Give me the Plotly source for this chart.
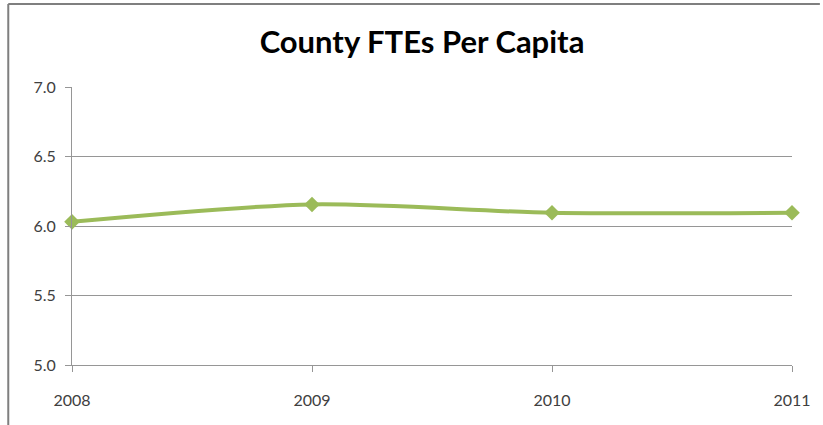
import plotly.graph_objects as go

years = [2008, 2009, 2010, 2011]
ftes_per_capita = [6.03, 6.155, 6.095, 6.095]
y_ticks = [5.0, 5.5, 6.0, 6.5, 7.0]
y_tick_labels = ["5.0", "5.5", "6.0", "6.5", "7.0"]

line_color = "#9BBB59"
grid_color = "#969696"
label_font = dict(family="Lato, Open Sans, sans-serif", size=16, color="#404040")

# plot area in pixels: x 72..795, y 87..365
W, H = 823, 425
L, R, T, B = 72, 28, 87, 60
pw, ph = W - L - R, H - T - B

fig = go.Figure()
fig.add_trace(go.Scatter(
    x=years,
    y=ftes_per_capita,
    mode="lines+markers",
    line=dict(color=line_color, width=4, shape="spline", smoothing=0.8),
    marker=dict(symbol="diamond", size=12, color=line_color),
    cliponaxis=False,
    showlegend=False,
))

fig.update_layout(
    width=W,
    height=H,
    margin=dict(l=L, r=R, t=T, b=B),
    paper_bgcolor="white",
    plot_bgcolor="white",
    title=dict(
        text="<b>County FTEs Per Capita</b>",
        x=422 / W, xanchor="center",
        y=1 - 42 / H, yanchor="middle",
        font=dict(family="Lato, Open Sans, sans-serif", size=31, color="#000000"),
    ),
    xaxis=dict(
        range=[2008, 2011],
        tickmode="array",
        tickvals=years,
        ticktext=[str(y) for y in years],
        ticks="outside",
        ticklen=6,
        tickcolor=grid_color,
        tickwidth=1,
        ticklabelstandoff=15,
        showgrid=False,
        showline=True,
        linecolor=grid_color,
        linewidth=1,
        zeroline=False,
        tickfont=label_font,
    ),
    yaxis=dict(
        range=[5.0, 7.0],
        tickmode="array",
        tickvals=y_ticks,
        ticktext=y_tick_labels,
        ticks="outside",
        ticklen=6,
        tickcolor=grid_color,
        tickwidth=1,
        ticklabelstandoff=6,
        showgrid=True,
        gridcolor=grid_color,
        gridwidth=1,
        showline=True,
        linecolor=grid_color,
        linewidth=1,
        zeroline=False,
        tickfont=label_font,
    ),
    shapes=[
        # chart frame (left and top edges)
        dict(type="line", xref="paper", yref="paper", x0=(8 - L) / pw, x1=(8 - L) / pw,
             y0=-B / ph, y1=1 + (T - 4) / ph, line=dict(color="#7f7f7f", width=2)),
        dict(type="line", xref="paper", yref="paper", x0=(8 - L) / pw, x1=1 + R / pw,
             y0=1 + (T - 4) / ph, y1=1 + (T - 4) / ph, line=dict(color="#7f7f7f", width=2)),
    ],
    annotations=[
        dict(text="g", xref="paper", yref="paper", x=(735 - L) / pw, y=1 + (T + 5) / ph,
             xanchor="center", yanchor="bottom", showarrow=False,
             font=dict(family="Liberation Serif, serif", size=20, color="#000000")),
    ],
)

fig.write_html("out.html")
